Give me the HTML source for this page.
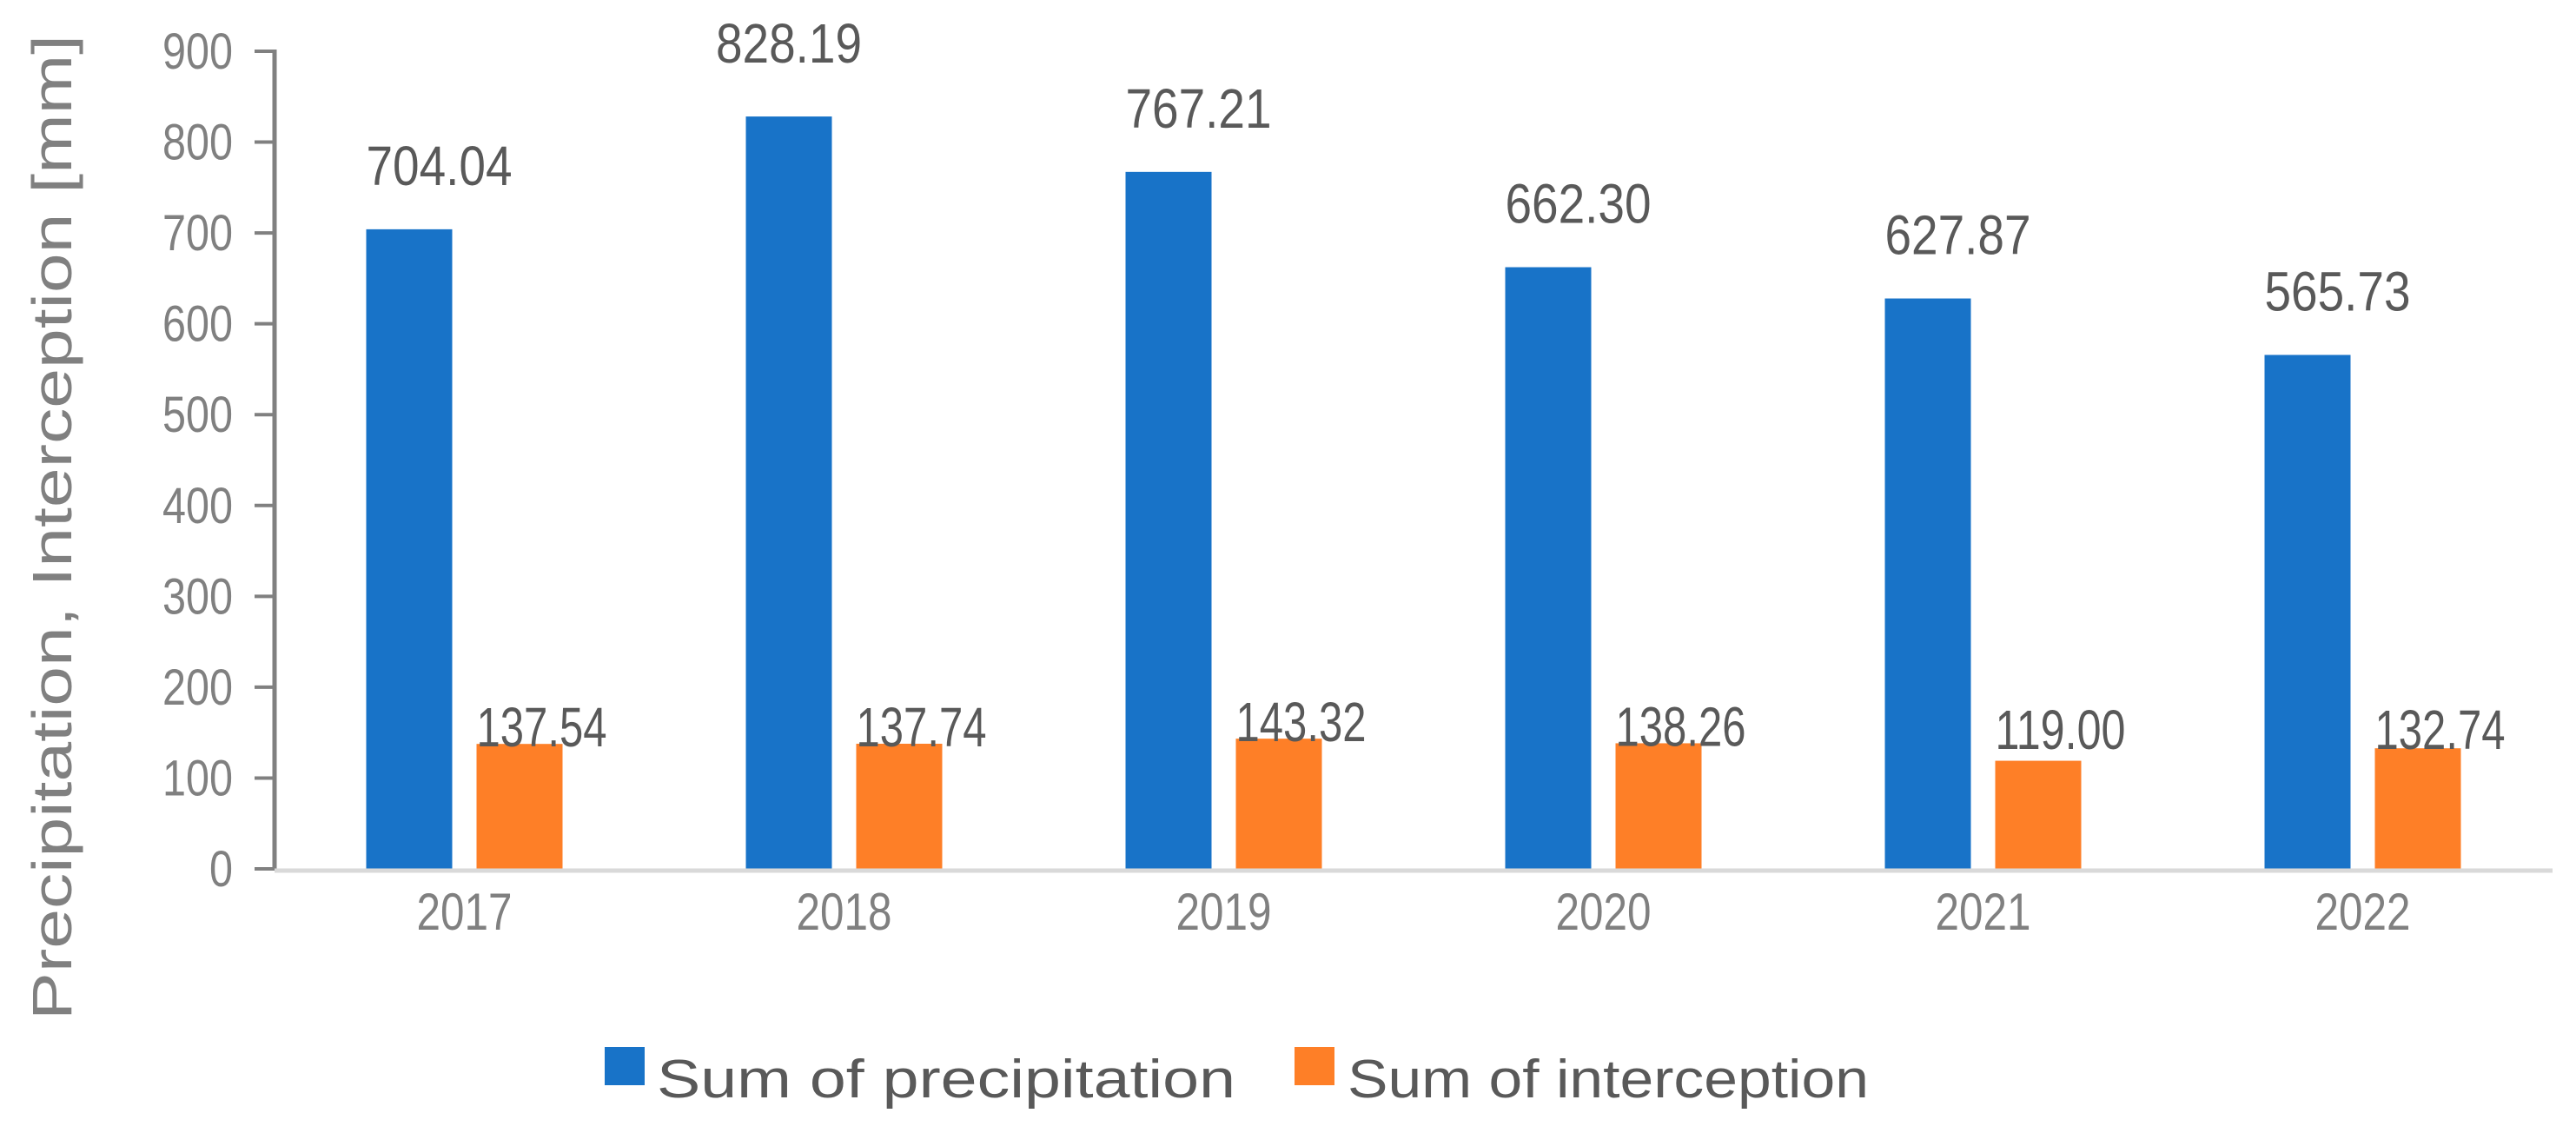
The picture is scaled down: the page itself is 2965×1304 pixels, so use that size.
<!DOCTYPE html>
<html><head><meta charset="utf-8"><style>
html,body{margin:0;padding:0;background:#fff;}
svg{display:block;font-family:"Liberation Sans",sans-serif;}
</style></head><body>
<svg id="chart" width="2965" height="1304" viewBox="0 0 2965 1304">
<text transform="translate(82,607) rotate(-90)" text-anchor="middle" font-size="64" fill="#808080" textLength="1134" lengthAdjust="spacingAndGlyphs">Precipitation, Interception [mm]</text>
<g id="yaxis"></g>
<g id="bars"></g>
<g id="xaxis"></g>
<g>
<rect x="696" y="1205" width="46" height="44" fill="#1873c8"/>
<text x="756" y="1263" font-size="62" fill="#595959" textLength="666" lengthAdjust="spacingAndGlyphs">Sum of precipitation</text>
<rect x="1490" y="1205" width="46" height="44" fill="#fe7f27"/>
<text x="1551" y="1263" font-size="62" fill="#595959" textLength="600" lengthAdjust="spacingAndGlyphs">Sum of interception</text>
</g>
</svg>
<script>
const categories = ["2017","2018","2019","2020","2021","2022"];
const precipitation = [704.04, 828.19, 767.21, 662.30, 627.87, 565.73];
const interception = [137.54, 137.74, 143.32, 138.26, 119.00, 132.74];
const yTicks = [0,100,200,300,400,500,600,700,800,900];

const NS = "http://www.w3.org/2000/svg";
const plotLeft = 316, plotRight = 2938, y0 = 1000, yTop = 59, yMax = 900;
const band = (plotRight - plotLeft) / categories.length;
function yScale(v){ return y0 - (v / yMax) * (y0 - yTop); }
function xCenter(i){ return plotLeft + band * (i + 0.5); }
function mk(tag, attrs, parent){
  const e = document.createElementNS(NS, tag);
  for (const k in attrs) e.setAttribute(k, attrs[k]);
  parent.appendChild(e);
  return e;
}
const yaxis = document.getElementById('yaxis');
const bars = document.getElementById('bars');
const xaxis = document.getElementById('xaxis');

yTicks.forEach(t => {
  const y = yScale(t);
  const tk = mk('line', {x1: plotLeft - 23, x2: plotLeft, y1: y, y2: y, stroke: '#808080', 'stroke-width': 4}, yaxis);
  
  
  const s = String(t);
  const lb = mk('text', {x: 268, y: y + 20, 'text-anchor': 'end', 'font-size': 58, fill: '#808080', textLength: s.length * 27, lengthAdjust: 'spacingAndGlyphs'}, yaxis);
  lb.textContent = s;
  
  
});
const ax = mk('line', {x1: plotLeft, x2: plotLeft, y1: yTop - 2, y2: y0 + 2, stroke: '#808080', 'stroke-width': 5}, yaxis);



categories.forEach((c, i) => {
  const cx = xCenter(i);
  const bx = cx - 113, ox = cx + 14, w = 99;
  const pb = mk('rect', {x: bx, y: yScale(precipitation[i]), width: w, height: y0 - yScale(precipitation[i]), fill: '#1873c8'}, bars);
  
  
  const ib = mk('rect', {x: ox, y: yScale(interception[i]), width: w, height: y0 - yScale(interception[i]), fill: '#fe7f27'}, bars);
  
  
  let py = yScale(precipitation[i]) - 51;
  let pattrs = {x: bx, y: py, 'font-size': 64, fill: '#595959', textLength: 168, lengthAdjust: 'spacingAndGlyphs'};
  if (py < 100) { pattrs.y = 72; pattrs.x = bx + w / 2; pattrs['text-anchor'] = 'middle'; }
  const pl = mk('text', pattrs, bars);
  pl.textContent = precipitation[i].toFixed(2);
  
  
  const il = mk('text', {x: ox, y: Math.min(yScale(interception[i]) + 3, 862), 'font-size': 64, fill: '#595959', textLength: 150, lengthAdjust: 'spacingAndGlyphs'}, bars);
  il.textContent = interception[i].toFixed(2);
  
  
  const xl = mk('text', {x: cx, y: 1070, 'text-anchor': 'middle', 'font-size': 60, fill: '#808080', textLength: 110, lengthAdjust: 'spacingAndGlyphs'}, xaxis);
  xl.textContent = c;
  
  
});
const base = mk('line', {x1: plotLeft, x2: plotRight, y1: y0 + 2, y2: y0 + 2, stroke: '#d9d9d9', 'stroke-width': 5}, xaxis);


</script>
</body></html>
